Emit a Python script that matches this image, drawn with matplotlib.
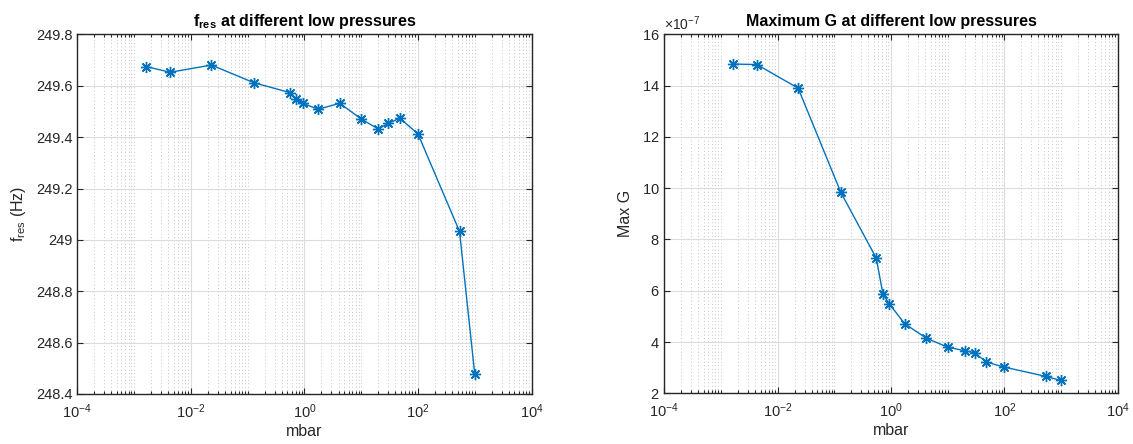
import numpy as np
import matplotlib
matplotlib.use("Agg")
import matplotlib.pyplot as plt
from matplotlib.ticker import FixedLocator, ScalarFormatter, MultipleLocator, LogFormatterMathtext, NullFormatter, FuncFormatter

# ---- data ----
pressure_mbar = [1.65e-3, 4.3e-3, 0.023, 0.13, 0.55, 0.72, 0.93, 1.75, 4.2,
                 10, 20, 30, 48, 100, 540, 1000]
f_res_hz = [249.675, 249.653, 249.681, 249.612, 249.574, 249.550, 249.532,
            249.509, 249.532, 249.471, 249.432, 249.454, 249.474, 249.413,
            249.033, 248.478]
max_g_e7 = [14.84, 14.82, 13.90, 9.84, 7.27, 5.87, 5.49, 4.71, 4.15, 3.80,
            3.66, 3.58, 3.22, 3.02, 2.66, 2.50]
max_g = [v * 1e-7 for v in max_g_e7]

titles = ["f$_{\\mathregular{res}}$ at different low pressures",
          "Maximum G at different low pressures"]
ylabels = ["f$_{\\mathregular{res}}$ (Hz)", "Max G"]
xlabel = "mbar"
x_major = [1e-4, 1e-2, 1e0, 1e2, 1e4]

plt.rcParams['font.family'] = ['Liberation Sans', 'DejaVu Sans']
plt.rcParams['mathtext.fontset'] = 'custom'
plt.rcParams['mathtext.rm'] = 'Liberation Sans'
plt.rcParams['mathtext.it'] = 'Liberation Sans'
plt.rcParams['mathtext.bf'] = 'Liberation Sans:bold'
plt.rcParams['axes.unicode_minus'] = False

W, H = 1133, 444
fig = plt.figure(figsize=(W / 100, H / 100), dpi=100)

dark = '#262626'
line_col = '#0072BD'

def make_ax(x0, x1, y0, y1):
    return fig.add_axes([x0 / W, 1 - y1 / H, (x1 - x0) / W, (y1 - y0) / H])

ax1 = make_ax(77.3, 531.5, 34.5, 394)
ax2 = make_ax(664.3, 1117.7, 34.3, 393.3)

minor_pos = []
for e in range(-4, 4):
    for k in range(1, 10):
        v = k * 10.0 ** e
        if k == 1 and e % 2 == 0:
            continue
        minor_pos.append(v)

for ax, y, title, ylab in [(ax1, f_res_hz, titles[0], ylabels[0]),
                           (ax2, max_g, titles[1], ylabels[1])]:
    ax.plot(pressure_mbar, y, color=line_col, lw=1.0, marker=(8, 2, 0),
            markersize=8, markeredgewidth=1.0, zorder=3)
    ax.set_xscale('log')
    ax.set_xlim(1e-4, 1e4)
    ax.xaxis.set_major_locator(FixedLocator(x_major))
    ax.xaxis.set_major_formatter(LogFormatterMathtext())
    ax.xaxis.set_minor_locator(FixedLocator(minor_pos))
    ax.xaxis.set_minor_formatter(NullFormatter())
    ax.grid(True, which='major', color='#dcdcdc', lw=0.8, ls='-', zorder=0)
    ax.grid(True, which='minor', axis='x', color='#c4c4c4', lw=0.7, ls=(0, (1, 2.5)), zorder=0)
    ax.tick_params(which='both', direction='in', top=True, right=True,
                   colors=dark, labelcolor=dark, labelsize=10.5, width=0.8)
    ax.tick_params(which='major', length=4.5)
    ax.tick_params(which='minor', length=2.5)
    ax.tick_params(axis='x', which='major', pad=6)
    for s in ax.spines.values():
        s.set_color(dark)
        s.set_linewidth(1.0)
    ax.set_title(title, fontsize=11.5, fontweight='bold', color='black', pad=6)
    ax.set_xlabel(xlabel, fontsize=11.5, color=dark, labelpad=2)
    ax.set_ylabel(ylab, fontsize=11.5, color=dark, labelpad=6)
    ax.set_axisbelow(True)

ax1.set_ylim(248.4, 249.8)
ax1.yaxis.set_major_locator(MultipleLocator(0.2))
ax1.yaxis.set_major_formatter(FuncFormatter(
    lambda v, p: '%d' % round(v) if abs(v - round(v)) < 1e-9 else '%.1f' % v))

ax2.set_ylim(2e-7, 16e-7)
ax2.yaxis.set_major_locator(MultipleLocator(2e-7))
fmt = ScalarFormatter(useMathText=True, useOffset=False)
fmt.set_powerlimits((-7, -7))
ax2.yaxis.set_major_formatter(fmt)
ax2.yaxis.get_offset_text().set_fontsize(10)
ax2.yaxis.get_offset_text().set_color(dark)

fig.savefig('out.png', dpi=100)
